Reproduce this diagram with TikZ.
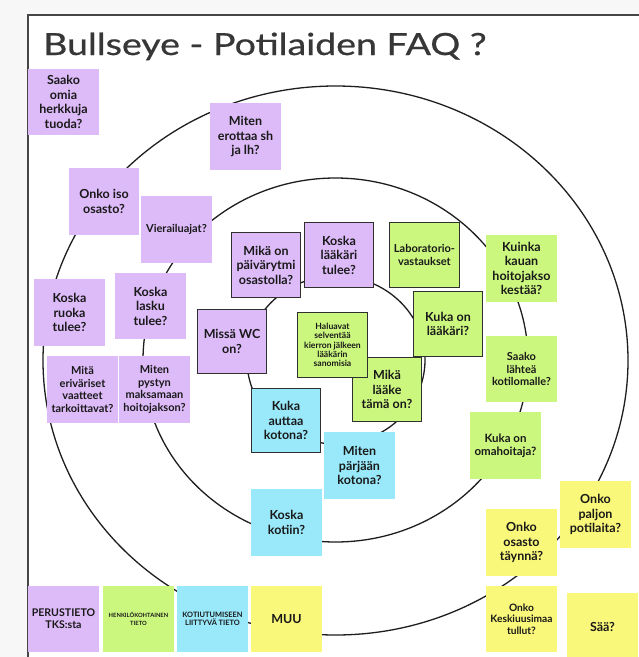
\documentclass[tikz,border=0pt]{standalone}
\usepackage{fontspec}
\setmainfont{Lato}
\newfontfamily\titlefont[FakeBold=0.6]{Lato}
\definecolor{pagegray}{RGB}{247,247,247}
\definecolor{framegray}{RGB}{70,70,70}
\definecolor{titlegray}{RGB}{55,55,55}
\definecolor{ink}{RGB}{25,25,25}
\definecolor{ringline}{RGB}{30,30,30}
\definecolor{purp}{RGB}{221,186,248}
\definecolor{lime}{RGB}{204,247,127}
\definecolor{sky}{RGB}{153,233,250}
\definecolor{lemon}{RGB}{250,248,122}
\newcommand{\fsz}[2]{\fontsize{#1pt}{#2pt}\selectfont}
\begin{document}
\begin{tikzpicture}[x=1pt,y=-1pt,
  note/.style={minimum width=71pt, minimum height=67pt, inner sep=0pt,
    align=center, text=ink, font=\bfseries\fsz{12.5}{14.5}},
  framed/.style={note, draw=ink!90, line width=1.4pt,
    minimum width=69.5pt, minimum height=64.5pt},
  midtext/.style={font=\bfseries\fsz{11}{12.5}},
  ring/.style={draw=ringline, line width=1.3pt}]
\useasboundingbox (0,0) rectangle (639,657);

% page and board
\fill[pagegray] (0,0) rectangle (639,657);
\fill[white] (28,15) rectangle (660,680);
\draw[framegray, line width=1.5pt] (28,680) -- (28,15) -- (660,15);

\node[anchor=base west, text=titlegray, font=\titlefont\fsz{30.5}{34}, inner sep=0pt]
  (title) at (43,55) {\scalebox{1.23}[1]{Bullseye - Potilaiden FAQ ?}};

% the three rings of the bullseye
\draw[ring] (335.5,360.5) ellipse [x radius=292.5pt, y radius=274.5pt];
\draw[ring] (335.5,360) ellipse [x radius=192.5pt, y radius=182pt];
\draw[ring] (336,360) ellipse [x radius=89pt, y radius=84pt];

% general information about the ward
\node[note, fill=purp, minimum height=66pt] (herkut) at (63.5,102) {Saako\\omia\\herkkuja\\tuoda?};
\node[note, fill=purp] (erotus) at (245.5,136.5) {Miten\\erottaa sh\\ja lh?};
\node[note, fill=purp, minimum width=70pt] (koko) at (104,201.5) {Onko iso\\osasto?};
\node[note, fill=purp, midtext] (vierailu) at (176.5,229.5) {Vierailuajat?};
\node[note, fill=purp] (ruoka) at (69.5,312.5) {Koska\\ruoka\\tulee?};
\node[note, fill=purp, minimum height=66pt] (lasku) at (150.5,306) {Koska\\lasku\\tulee?};
\node[note, fill=purp, midtext] (vaatteet) at (82.5,389.5) {Mitä\\eriväriset\\vaatteet\\tarkoittavat?};
\node[note, fill=purp, midtext] (maksu) at (154.5,389.5) {Miten\\pystyn\\maksamaan\\hoitojakson?};
\node[framed, fill=purp] (rytmi) at (266,265) {Mikä on\\päivärytmi\\osastolla?};
\node[framed, fill=purp, minimum height=63.5pt] (wc) at (232,341.5) {Missä WC\\on?};
\node[framed, fill=purp] (laakaritulee) at (339,255) {Koska\\lääkäri\\tulee?};

% personal information
\node[framed, fill=lime, midtext, minimum width=70pt] (labra) at (424.5,255) {Laboratorio-\\vastaukset};
\node[note, fill=lime] (kesto) at (521.5,268.5) {Kuinka\\kauan\\hoitojakso\\kestää?};
\node[framed, fill=lime] (laakari) at (448,324) {Kuka on\\lääkäri?};
\node[framed, fill=lime, minimum height=63.5pt] (laake) at (387,389.5) {Mikä\\lääke\\tämä on?};
\node[framed, fill=lime, minimum width=70pt, font=\bfseries\fsz{8.6}{9.4}] (kierto) at (332.5,345) {Haluavat\\selventää\\kierron jälkeen\\lääkärin\\sanomisia};
\node[note, fill=lime, midtext, minimum height=66pt] (kotiloma) at (521.5,369) {Saako\\lähteä\\kotilomalle?};
\node[note, fill=lime, font=\bfseries\fsz{11.5}{13}] (omahoitaja) at (505.5,445.5) {Kuka on\\omahoitaja?};

% going home
\node[framed, fill=sky, minimum height=63.5pt] (apu) at (286,420.5) {Kuka\\auttaa\\kotona?};
\node[note, fill=sky] (parjaan) at (359.5,465.5) {Miten\\pärjään\\kotona?};
\node[note, fill=sky] (kotiin) at (286.5,522.5) {Koska\\kotiin?};

% other questions
\node[note, fill=lemon] (paljon) at (595.5,514.5) {Onko\\paljon\\potilaita?};
\node[note, fill=lemon] (taynna) at (521.5,542.5) {Onko\\osasto\\täynnä?};
\node[note, fill=lemon, minimum height=66pt, font=\bfseries\fsz{10.2}{11.4}] (keskiuusimaa) at (521.5,619) {Onko\\Keskiuusimaa\\tullut?};
\node[note, fill=lemon] (saa) at (602.5,626.5) {Sää?};

% legend
\node[note, fill=purp, minimum height=66pt, font=\bfseries\fsz{10.6}{12.3}] (lperus) at (63.5,619) {PERUSTIETO\\TKS:sta};
\node[note, fill=lime, minimum height=66pt, font=\bfseries\fsz{5.8}{8}] (lhenk) at (138.5,619) {HENKILÖKOHTAINEN\\TIETO};
\node[note, fill=sky, minimum height=66pt, font=\bfseries\fsz{7.4}{8.6}] (lkoti) at (212.5,619) {KOTIUTUMISEEN\\LIITTYVÄ TIETO};
\node[note, fill=lemon, minimum height=66pt, font=\bfseries\fsz{12.5}{14}] (lmuu) at (286.5,619) {MUU};
\end{tikzpicture}
\end{document}
